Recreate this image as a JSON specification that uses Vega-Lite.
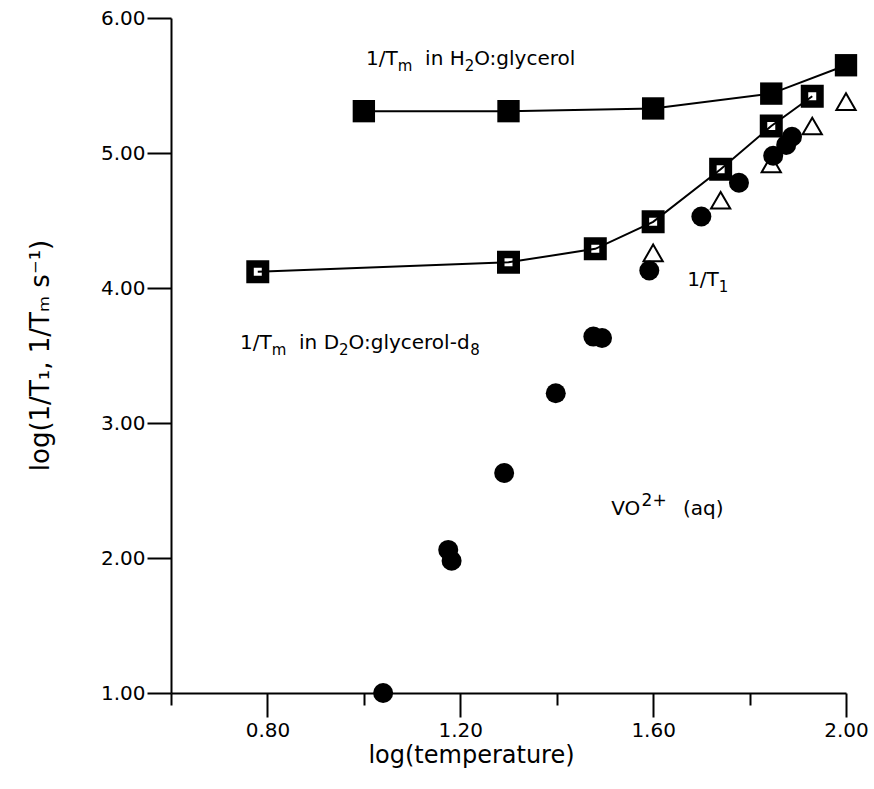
{
  "$schema": "https://vega.github.io/schema/vega-lite/v6.json",
  "width": 675,
  "height": 675,
  "autosize": {"type": "none"},
  "padding": {"left": 171, "top": 18, "right": 28, "bottom": 96},
  "background": "white",
  "config": {
    "view": {"stroke": null},
    "font": "DejaVu Sans",
    "axis": {"grid": false, "domainColor": "black", "domainWidth": 2, "tickColor": "black", "tickWidth": 2, "labelColor": "black", "titleColor": "black", "titleFontWeight": "normal", "labelOverlap": false, "labelFlush": false, "labelBound": false}
  },
  "datasets": {
    "pts": [
      {"series": "H2O", "x": 1.00, "y": 5.31},
      {"series": "H2O", "x": 1.30, "y": 5.31},
      {"series": "H2O", "x": 1.60, "y": 5.33},
      {"series": "H2O", "x": 1.845, "y": 5.44},
      {"series": "H2O", "x": 2.00, "y": 5.65},
      {"series": "D2O", "x": 0.78, "y": 4.12},
      {"series": "D2O", "x": 1.30, "y": 4.19},
      {"series": "D2O", "x": 1.48, "y": 4.29},
      {"series": "D2O", "x": 1.60, "y": 4.49},
      {"series": "D2O", "x": 1.74, "y": 4.88},
      {"series": "D2O", "x": 1.845, "y": 5.20},
      {"series": "D2O", "x": 1.93, "y": 5.42},
      {"series": "tri", "x": 1.60, "y": 4.26},
      {"series": "tri", "x": 1.74, "y": 4.65},
      {"series": "tri", "x": 1.845, "y": 4.92},
      {"series": "tri", "x": 1.93, "y": 5.20},
      {"series": "tri", "x": 2.00, "y": 5.38},
      {"series": "T1", "x": 1.04, "y": 1.00},
      {"series": "T1", "x": 1.175, "y": 2.06},
      {"series": "T1", "x": 1.182, "y": 1.98},
      {"series": "T1", "x": 1.291, "y": 2.63},
      {"series": "T1", "x": 1.398, "y": 3.22},
      {"series": "T1", "x": 1.476, "y": 3.64},
      {"series": "T1", "x": 1.494, "y": 3.63},
      {"series": "T1", "x": 1.592, "y": 4.13},
      {"series": "T1", "x": 1.70, "y": 4.53},
      {"series": "T1", "x": 1.778, "y": 4.78},
      {"series": "T1", "x": 1.849, "y": 4.98},
      {"series": "T1", "x": 1.876, "y": 5.06},
      {"series": "T1", "x": 1.888, "y": 5.12}
    ],
    "notes": [
      {"kind": "main", "label": "1/T", "x": 1.0046, "y": 5.652},
      {"kind": "sub", "label": "m", "x": 1.0703, "y": 5.607},
      {"kind": "main", "label": "in H", "x": 1.127, "y": 5.652},
      {"kind": "sub", "label": "2", "x": 1.2091, "y": 5.607},
      {"kind": "main", "label": "O:glycerol", "x": 1.2288, "y": 5.652},
      {"kind": "main", "label": "1/T", "x": 1.6705, "y": 4.015},
      {"kind": "sub", "label": "1", "x": 1.7363, "y": 3.970},
      {"kind": "main", "label": "1/T", "x": 0.7431, "y": 3.548},
      {"kind": "sub", "label": "m", "x": 0.8089, "y": 3.504},
      {"kind": "main", "label": "in D", "x": 0.8656, "y": 3.548},
      {"kind": "sub", "label": "2", "x": 0.9485, "y": 3.504},
      {"kind": "main", "label": "O:glycerol-d", "x": 0.9683, "y": 3.548},
      {"kind": "sub", "label": "8", "x": 1.2209, "y": 3.504},
      {"kind": "main", "label": "VO", "x": 1.5129, "y": 2.319},
      {"kind": "sup", "label": "2+", "x": 1.5760, "y": 2.385},
      {"kind": "main", "label": "(aq)", "x": 1.6620, "y": 2.319}
    ]
  },
  "encoding": {
    "x": {"field": "x", "type": "quantitative", "scale": {"domain": [0.6, 2.0], "nice": false, "zero": false},
      "axis": {
        "values": [0.6, 0.8, 1, 1.2, 1.4, 1.6, 1.8, 2],
        "labelExpr": "datum.value==0.8||datum.value==1.2||datum.value==1.6||datum.value==2 ? format(datum.value,'.2f') : ''",
        "tickSize": {"condition": {"test": "datum.value==0.6||datum.value==1||datum.value==1.4||datum.value==1.8", "value": 12}, "value": 24},
        "labelFont": "DejaVu Sans", "labelFontSize": 20, "labelPadding": 3,
        "title": "log(temperature)", "titleFont": "DejaVu Sans", "titleFontSize": 24,
        "titleX": 300, "titleY": 62, "titleBaseline": "middle", "titleAlign": "center"
      }},
    "y": {"field": "y", "type": "quantitative", "scale": {"domain": [1, 6], "nice": false, "zero": false},
      "axis": {
        "values": [1, 2, 3, 4, 5, 6], "format": ".2f", "tickSize": 24, "labelPadding": 2,
        "labelFont": "DejaVu Sans", "labelFontSize": 20,
        "title": "log(1/T₁, 1/Tₘ s⁻¹)", "titleFont": "DejaVu Sans", "titleFontSize": 26,
        "titleX": -131, "titleY": 337, "titleAngle": -90, "titleAlign": "center", "titleBaseline": "middle"
      }}
  },
  "layer": [
    {"data": {"name": "pts"}, "transform": [{"filter": "datum.series=='H2O'"}], "mark": {"type": "line", "color": "black", "strokeWidth": 2}},
    {"data": {"name": "pts"}, "transform": [{"filter": "datum.series=='D2O'"}], "mark": {"type": "line", "color": "black", "strokeWidth": 2}},
    {"data": {"name": "pts"}, "transform": [{"filter": "datum.series=='H2O'"}], "mark": {"type": "point", "shape": "square", "filled": true, "color": "black", "opacity": 1, "size": 500}},
    {"data": {"name": "pts"}, "transform": [{"filter": "datum.series=='D2O'"}], "mark": {"type": "point", "shape": "square", "filled": false, "color": "black", "opacity": 1, "size": 240, "strokeWidth": 7.5}},
    {"data": {"name": "pts"}, "transform": [{"filter": "datum.series=='tri'"}], "mark": {"type": "point", "shape": "triangle-up", "filled": false, "color": "black", "opacity": 1, "size": 370, "strokeWidth": 2}},
    {"data": {"name": "pts"}, "transform": [{"filter": "datum.series=='T1'"}], "mark": {"type": "point", "shape": "circle", "filled": true, "color": "black", "opacity": 1, "size": 400}},
    {"data": {"name": "notes"}, "transform": [{"filter": "datum.kind=='main'"}], "mark": {"type": "text", "align": "left", "baseline": "alphabetic", "font": "DejaVu Sans", "fontSize": 20, "color": "black"}, "encoding": {"text": {"field": "label"}}},
    {"data": {"name": "notes"}, "transform": [{"filter": "datum.kind=='sub'"}], "mark": {"type": "text", "align": "left", "baseline": "alphabetic", "font": "DejaVu Sans", "fontSize": 15, "color": "black"}, "encoding": {"text": {"field": "label"}}},
    {"data": {"name": "notes"}, "transform": [{"filter": "datum.kind=='sup'"}], "mark": {"type": "text", "align": "left", "baseline": "alphabetic", "font": "DejaVu Sans", "fontSize": 17, "color": "black"}, "encoding": {"text": {"field": "label"}}}
  ]
}
